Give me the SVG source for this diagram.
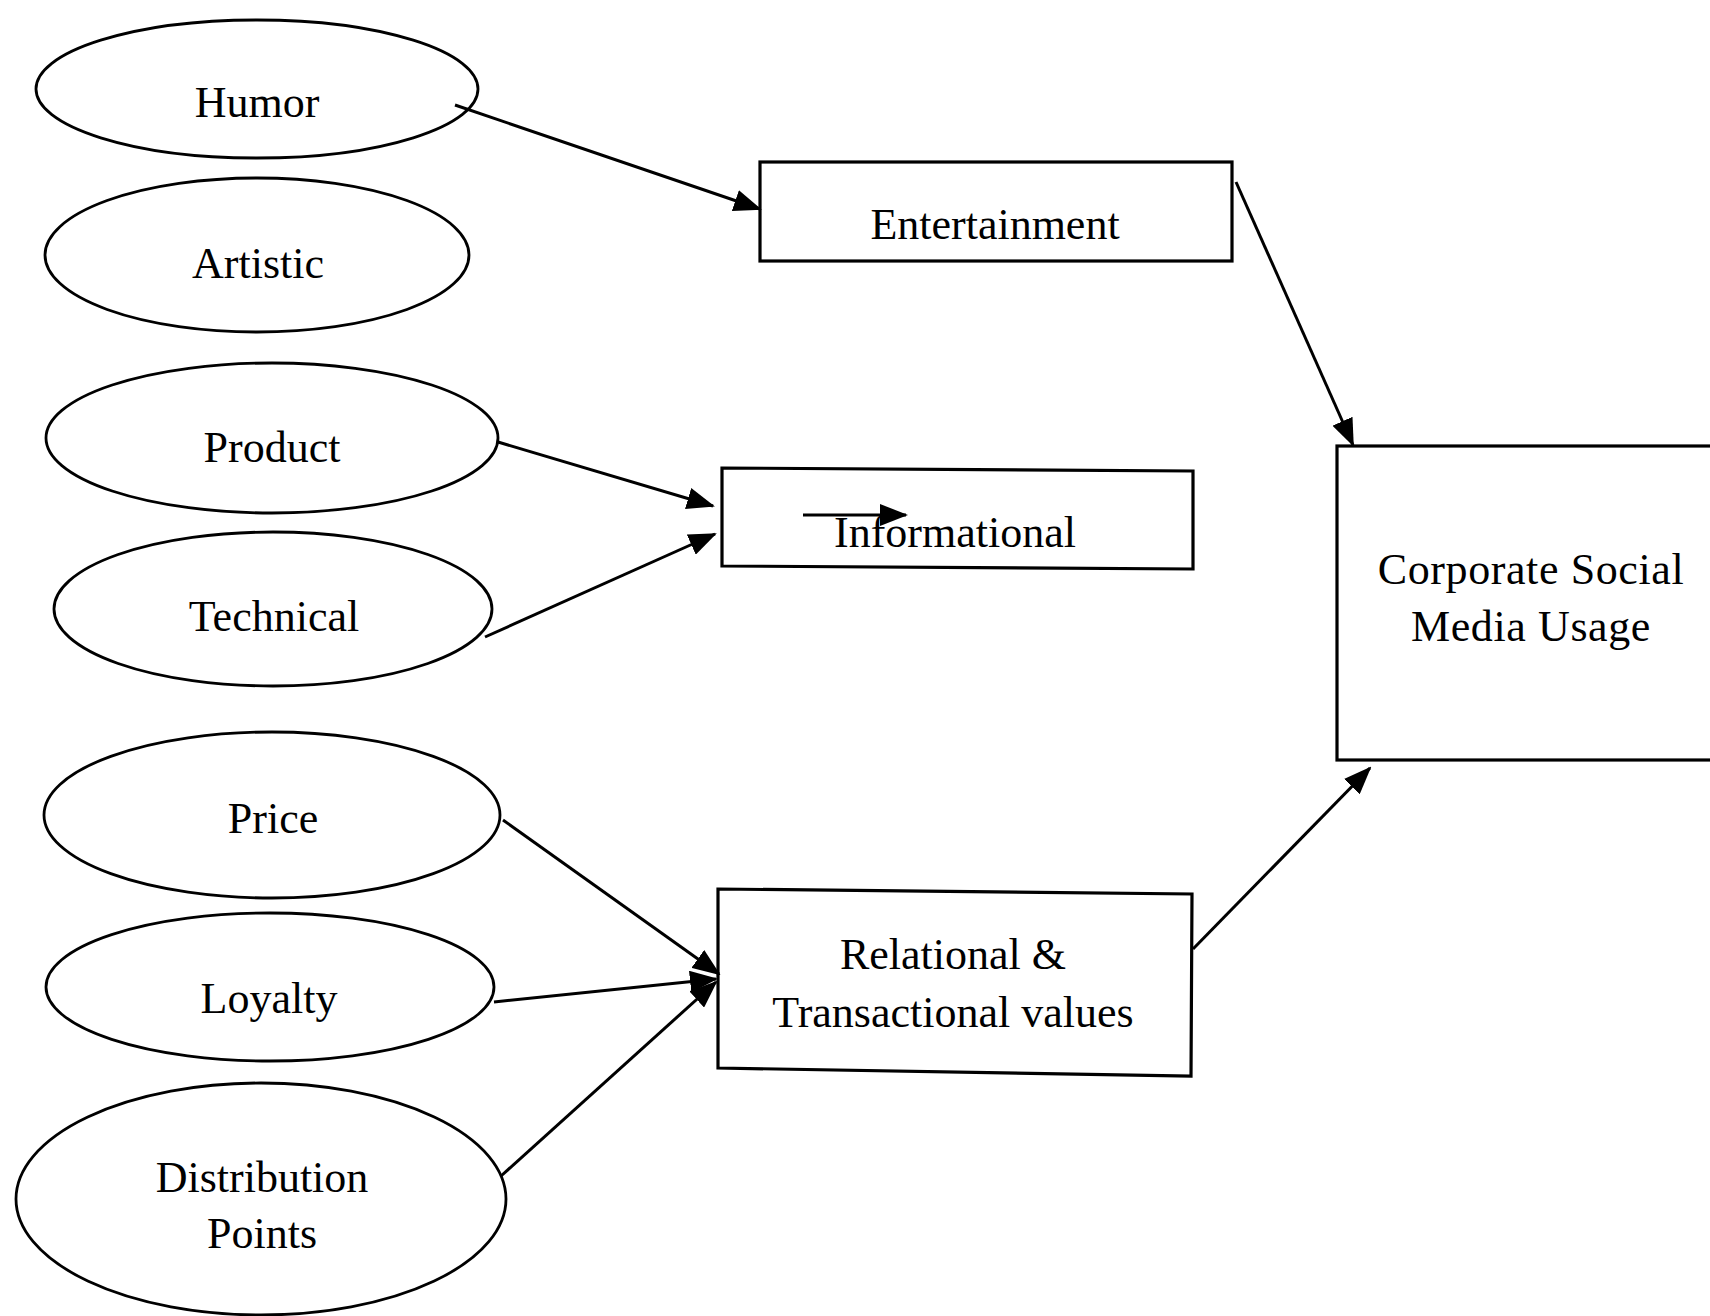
<svg xmlns="http://www.w3.org/2000/svg" width="1710" height="1316" viewBox="0 0 1710 1316">
<defs>
<style>
.node ellipse{fill:#fff;stroke:#000;stroke-width:2.8}
.node rect,.node polygon{fill:#fff;stroke:#000;stroke-width:3.2}
text{font-family:"Liberation Serif","Times New Roman",serif;font-size:44px;fill:#000;text-anchor:middle}
.conn line{stroke:#000;stroke-width:3;fill:none;marker-end:url(#ah)}
</style>
<marker id="ah" markerUnits="userSpaceOnUse" markerWidth="28" markerHeight="22" viewBox="0 0 28 22" refX="26" refY="11" orient="auto">
<path d="M0,0 L28,11 L0,22 Z" fill="#000"/>
</marker>
</defs>
<rect width="1710" height="1316" fill="#fff"/>
<g id="humor" class="node"><ellipse cx="257" cy="89" rx="221" ry="69"/><text x="257" y="117">Humor</text></g>
<g id="artistic" class="node"><ellipse cx="257" cy="255" rx="212" ry="77"/><text x="258" y="278">Artistic</text></g>
<g id="product" class="node"><ellipse cx="272" cy="438" rx="226" ry="75"/><text x="272" y="462">Product</text></g>
<g id="technical" class="node"><ellipse cx="273" cy="609" rx="219" ry="77"/><text x="274" y="631">Technical</text></g>
<g id="price" class="node"><ellipse cx="272" cy="815" rx="228" ry="83"/><text x="273" y="833">Price</text></g>
<g id="loyalty" class="node"><ellipse cx="270" cy="987" rx="224" ry="74"/><text x="269" y="1013">Loyalty</text></g>
<g id="distribution" class="node"><ellipse cx="261" cy="1199" rx="245" ry="116"/><text x="262" y="1192">Distribution</text><text x="262" y="1248">Points</text></g>
<g id="entertainment" class="node"><rect x="760" y="162" width="472" height="99"/><text x="995" y="239">Entertainment</text></g>
<g id="informational" class="node"><polygon points="722,468 1193,471 1193,569 722,566"/><text x="955" y="547">Informational</text></g>
<g id="relational" class="node"><polygon points="718,889 1192,894 1191,1076 718,1068"/><text x="953" y="969">Relational &amp;</text><text x="953" y="1027">Transactional values</text></g>
<g id="corporate" class="node"><rect x="1337" y="446" width="380" height="314"/><text x="1531" y="584" letter-spacing="0.6">Corporate Social</text><text x="1531" y="641" letter-spacing="0.6">Media Usage</text></g>
<g id="connectors" class="conn">
<line x1="455" y1="105" x2="760" y2="209"/>
<line x1="1236" y1="182" x2="1353" y2="445"/>
<line x1="498" y1="442" x2="713" y2="506"/>
<line x1="485" y1="637" x2="715" y2="534"/>
<line x1="503" y1="820" x2="719" y2="974"/>
<line x1="494" y1="1002" x2="716" y2="979"/>
<line x1="501" y1="1176" x2="716" y2="982"/>
<line x1="1193" y1="949" x2="1370" y2="768"/>
<line x1="803" y1="515" x2="906" y2="515"/>
</g>
</svg>
